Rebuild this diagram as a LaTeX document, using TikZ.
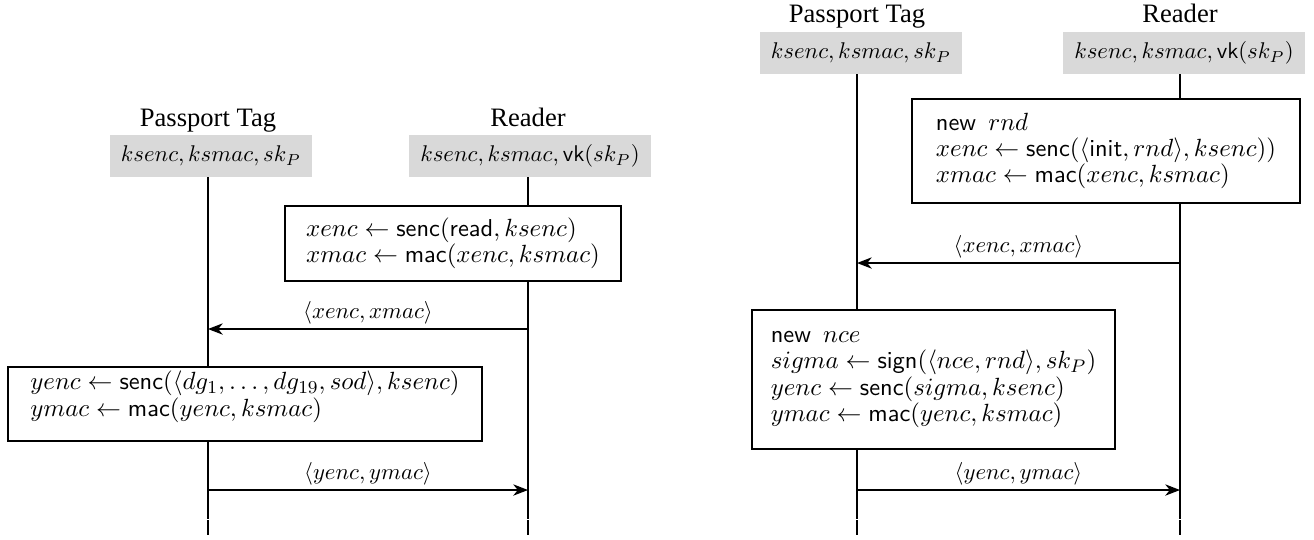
\documentclass[tikz,border=0pt]{standalone}
\usepackage{fontspec}
\newfontfamily\timesf{Liberation Serif}
\usetikzlibrary{arrows.meta}
\tikzset{
  ttl/.style={font=\timesf\fontsize{11.7}{14}\selectfont, anchor=base, inner sep=0pt},
  keys/.style={fill=gray!30, minimum height=18.5pt, inner xsep=5pt, inner ysep=0pt},
  lifeline/.style={line width=0.8pt},
  msg/.style={-{Stealth[length=6.5pt,width=5pt,inset=2pt]}, line width=0.6pt},
  lbl/.style={above, inner sep=2pt, font=\fontsize{10}{11.5}\selectfont},
  stepbox/.style={draw, fill=white, line width=0.8pt, inner sep=0pt, align=left,
    font=\fontsize{10.75}{11.6}\selectfont}
}
\begin{document}
\begin{tikzpicture}[x=0.44pt, y=-0.44pt]
\useasboundingbox (0,0) rectangle (1314,539);
% ---------- left diagram ----------
\node[ttl] (tagTa) at (208,126) {Passport Tag};
\node[ttl] (rdrTa) at (528,126) {Reader};
\node[keys] (tagKa) at (211,156) {$ksenc, ksmac, sk_P$};
\node[keys] (rdrKa) at (530,156) {$ksenc, ksmac, \mathsf{vk}(sk_P)$};
\coordinate (tagSa) at (208,165);
\coordinate (rdrSa) at (528,165);
\coordinate (tagGa1) at (208,519);
\coordinate (tagGa2) at (208,520);
\coordinate (tagEa) at (208,535);
\coordinate (rdrGa1) at (528,519);
\coordinate (rdrGa2) at (528,520);
\coordinate (rdrEa) at (528,535);
\draw[lifeline] (tagKa.south -| tagSa) -- (tagGa1) (tagGa2) -- (tagEa);
\draw[lifeline] (rdrKa.south -| rdrSa) -- (rdrGa1) (rdrGa2) -- (rdrEa);
\node[stepbox, minimum width=147.8pt, minimum height=33pt] (xboxa) at (453,243.5)
  {$xenc \leftarrow \mathsf{senc}(\mathsf{read}, ksenc)$\\
   $xmac \leftarrow \mathsf{mac}(xenc, ksmac)$};
\node[stepbox, minimum width=208.6pt, minimum height=32.6pt] (yboxa) at (245,404)
  {$yenc \leftarrow \mathsf{senc}(\langle dg_1, \ldots, dg_{19}, sod\rangle, ksenc)$\\
   $ymac \leftarrow \mathsf{mac}(yenc, ksmac)$\\[-2.5pt]\mbox{}};
\coordinate (m1ra) at (528,329);
\coordinate (m1ta) at (208,329);
\coordinate (m2ta) at (208,490);
\coordinate (m2ra) at (528,490);
\draw[msg] (m1ra) -- node[lbl] {$\langle xenc, xmac\rangle$} (m1ta);
\draw[msg] (m2ta) -- node[lbl] {$\langle yenc, ymac\rangle$} (m2ra);
% ---------- right diagram ----------
\node[ttl] (tagTb) at (857,22) {Passport Tag};
\node[ttl] (rdrTb) at (1180,22) {Reader};
\node[keys] (tagKb) at (861,53) {$ksenc, ksmac, sk_P$};
\node[keys] (rdrKb) at (1184,53) {$ksenc, ksmac, \mathsf{vk}(sk_P)$};
\coordinate (tagSb) at (857,60);
\coordinate (rdrSb) at (1180,60);
\coordinate (tagGb1) at (857,519);
\coordinate (tagGb2) at (857,520);
\coordinate (tagEb) at (857,535);
\coordinate (rdrGb1) at (1180,519);
\coordinate (rdrGb2) at (1180,520);
\coordinate (rdrEb) at (1180,535);
\draw[lifeline] (tagKb.south -| tagSb) -- (tagGb1) (tagGb2) -- (tagEb);
\draw[lifeline] (rdrKb.south -| rdrSb) -- (rdrGb1) (rdrGb2) -- (rdrEb);
\node[stepbox, minimum width=170.7pt, minimum height=45.8pt] (xboxb) at (1106,151)
  {\textsf{new}\enspace$rnd$\\
   $xenc \leftarrow \mathsf{senc}(\langle\mathsf{init}, rnd\rangle, ksenc))$\\
   $xmac \leftarrow \mathsf{mac}(xenc, ksmac)$};
\node[stepbox, minimum width=159.7pt, minimum height=61.2pt] (yboxb) at (933.5,379.5)
  {\textsf{new}\enspace$nce$\\
   $sigma \leftarrow \mathsf{sign}(\langle nce, rnd\rangle, sk_P)$\\
   $yenc \leftarrow \mathsf{senc}(sigma, ksenc)$\\
   $ymac \leftarrow \mathsf{mac}(yenc, ksmac)$};
\coordinate (m1rb) at (1180,263);
\coordinate (m1tb) at (857,263);
\coordinate (m2tb) at (857,490);
\coordinate (m2rb) at (1180,490);
\draw[msg] (m1rb) -- node[lbl] {$\langle xenc, xmac\rangle$} (m1tb);
\draw[msg] (m2tb) -- node[lbl] {$\langle yenc, ymac\rangle$} (m2rb);
\end{tikzpicture}
\end{document}
